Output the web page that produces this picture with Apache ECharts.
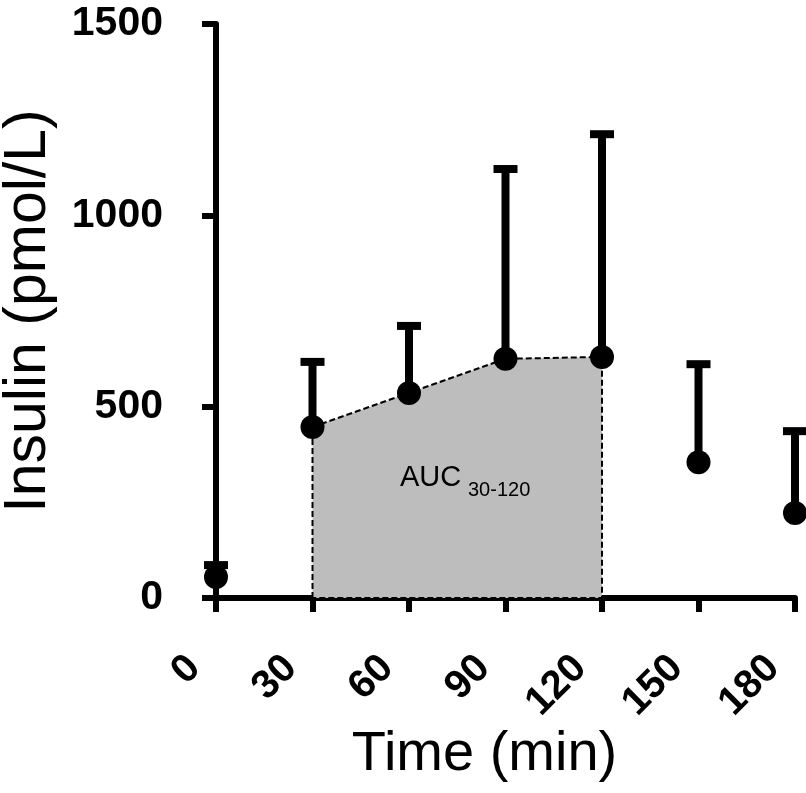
<!DOCTYPE html>
<html>
<head>
<meta charset="utf-8">
<script src="https://cdn.jsdelivr.net/npm/echarts@6/dist/echarts.min.js"></script>
<style>
html,body{margin:0;padding:0;background:#fff;}
#chart{width:806px;height:793px;}
</style>
</head>
<body>
<div id="chart"></div>
<script>
// ---- data ----
var times = [0, 30, 60, 90, 120, 150, 180];
var insulinMean = [55, 447, 536, 625, 630, 355, 222];
var insulinErrUp = [31, 170, 175, 496, 582, 256, 214];
var xTicks = [0, 30, 60, 90, 120, 150, 180];
var yTicks = [0, 500, 1000, 1500];
var aucStart = 30, aucEnd = 120;
var aucLabel = 'AUC', aucSub = '30-120';

var FONT = '"Liberation Sans", Arial, Helvetica, sans-serif';

var meanData = times.map(function (t, i) { return [t, insulinMean[i]]; });
var errData = times.map(function (t, i) { return [t, insulinMean[i], insulinMean[i] + insulinErrUp[i]]; });
var aucPts = [];
times.forEach(function (t, i) { if (t >= aucStart && t <= aucEnd) aucPts.push([t, insulinMean[i]]); });
var aucPoly = [[aucStart, 0]].concat(aucPts).concat([[aucEnd, 0]]);

var chart = echarts.init(document.getElementById('chart'), null, {renderer: 'canvas'});
var option = {
  backgroundColor: '#fff',
  animation: false,
  grid: {left: 216, right: 11, top: 24, bottom: 195, containLabel: false, outerBoundsMode: 'none'},
  xAxis: {
    type: 'value',
    min: xTicks[0], max: xTicks[xTicks.length - 1], interval: 30,
    name: 'Time (min)', nameLocation: 'middle', nameGap: 129, nameMoveOverlap: false,
    nameTextStyle: {fontFamily: FONT, fontSize: 56, color: '#000', padding: [0, 42, 0, 0]},
    axisLine: {show: true, lineStyle: {color: '#000', width: 6}},
    axisTick: {show: true, inside: false, length: 14, lineStyle: {color: '#000', width: 6}},
    axisLabel: {rotate: 45, margin: 42, padding: [0, 31, 0, 0], fontFamily: FONT, fontWeight: 'bold', fontSize: 40, color: '#000',
      formatter: function (v) { return String(v); }},
    splitLine: {show: false}
  },
  yAxis: {
    type: 'value',
    min: yTicks[0], max: yTicks[yTicks.length - 1], interval: 500,
    name: 'Insulin (pmol/L)', nameLocation: 'middle', nameGap: 158, nameRotate: 90,
    nameTextStyle: {fontFamily: FONT, fontSize: 59, color: '#000'},
    axisLine: {show: true, lineStyle: {color: '#000', width: 6}},
    axisTick: {show: true, inside: false, length: 14, lineStyle: {color: '#000', width: 6}},
    axisLabel: {margin: 53, fontFamily: FONT, fontWeight: 'bold', fontSize: 41, color: '#000',
      formatter: function (v) { return String(v); }},
    splitLine: {show: false}
  },
  series: [
    {
      type: 'custom',
      name: 'AUC',
      clip: false,
      z: 1,
      data: [[aucStart, 0]],
      renderItem: function (params, api) {
        var pts = aucPoly.map(function (p) { return api.coord(p); });
        return {
          type: 'polygon',
          shape: {points: pts},
          style: {fill: '#bdbdbd', stroke: '#000', lineWidth: 2, lineDash: [6, 3]}
        };
      }
    },
    {
      type: 'custom',
      name: 'SD',
      clip: false,
      z: 3,
      data: errData,
      renderItem: function (params, api) {
        var x = api.value(0), lo = api.value(1), hi = api.value(2);
        var p0 = api.coord([x, lo]), p1 = api.coord([x, hi]);
        return {
          type: 'group',
          children: [
            {type: 'line', shape: {x1: p0[0], y1: p0[1], x2: p1[0], y2: p1[1]}, style: {stroke: '#000', lineWidth: 8}},
            {type: 'line', shape: {x1: p1[0] - 12, y1: p1[1], x2: p1[0] + 12, y2: p1[1]}, style: {stroke: '#000', lineWidth: 8}}
          ]
        };
      }
    },
    {
      type: 'scatter',
      name: 'Mean',
      clip: false,
      z: 4,
      symbol: 'circle',
      symbolSize: 24,
      itemStyle: {color: '#000', opacity: 1},
      data: meanData
    }
  ],
  graphic: [
    {type: 'text', x: 400, y: 478, z: 10, style: {text: aucLabel, font: '29px ' + FONT, fill: '#000', verticalAlign: 'middle', align: 'left'}},
    {type: 'text', x: 468, y: 490, z: 10, style: {text: aucSub, font: '20px ' + FONT, fill: '#000', verticalAlign: 'middle', align: 'left'}}
  ]
};
chart.setOption(option);
</script>
</body>
</html>
